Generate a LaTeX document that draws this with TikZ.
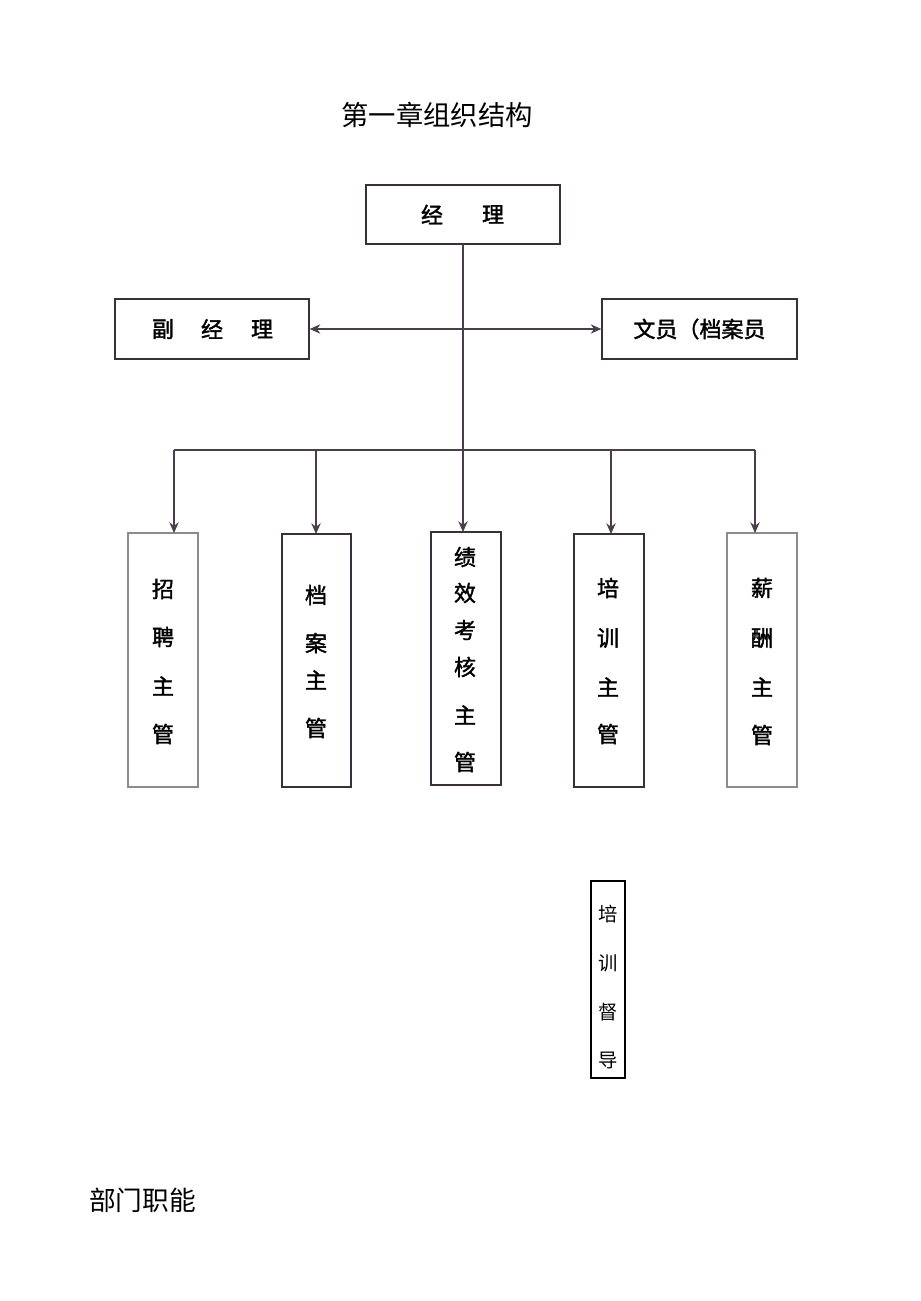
\documentclass[tikz,border=0pt]{standalone}
\usepackage{fontspec}
\newfontfamily\cjk{Noto Sans CJK SC}
\newfontfamily\cjkm{Noto Sans CJK SC}[FakeBold=1.6]
\usetikzlibrary{arrows.meta}
\definecolor{darkbox}{HTML}{3A303A}
\definecolor{graybox}{HTML}{8C8C8C}
\definecolor{hline}{HTML}{4A3E4A}
\begin{document}
\begin{tikzpicture}[x=0.75pt,y=-0.75pt,
  box/.style={draw=darkbox,line width=1pt,inner sep=0pt},
  gbox/.style={draw=graybox,line width=1pt,inner sep=0pt},
  lbl/.style={font=\cjkm\fontsize{16.5}{16.5}\selectfont,inner sep=0pt},
  thin/.style={font=\cjk\fontsize{14.5}{14.5}\selectfont,inner sep=0pt},
  conn/.style={line width=1pt,draw=hline},
  arr/.style={conn,-{Stealth[length=8pt,width=7pt]}},
]
\useasboundingbox[fill=white] (0,0) rectangle (920,1301);

% title
\node[font=\cjk\fontsize{20.5}{20.5}\selectfont,inner sep=0pt] (title) at (437,115) {第一章组织结构};

% top boxes
\node[box,minimum width=194*0.75pt,minimum height=59*0.75pt] (mgr) at (463,214.5) {};
\node[lbl] at (432,214.5) {经};
\node[lbl] at (493,214.5) {理};

\node[box,minimum width=194*0.75pt,minimum height=60*0.75pt] (vice) at (212,329) {};
\node[lbl] at (163,329) {副};
\node[lbl] at (212,329) {经};
\node[lbl] at (262,329) {理};

\node[box,minimum width=195*0.75pt,minimum height=60*0.75pt] (clerk) at (699.5,329) {};
\node[lbl] (clerkt) at (699.5,329) {文员（档案员};

% vertical boxes
\node[gbox,minimum width=70*0.75pt,minimum height=254*0.75pt] (b1) at (163,660) {};
\node[box,minimum width=69*0.75pt,minimum height=253*0.75pt] (b2) at (316.5,660.5) {};
\node[box,minimum width=70*0.75pt,minimum height=253*0.75pt] (b3) at (466,658.5) {};
\node[box,minimum width=70*0.75pt,minimum height=253*0.75pt] (b4) at (609,660.5) {};
\node[gbox,minimum width=70*0.75pt,minimum height=254*0.75pt] (b5) at (762,660) {};

\node[lbl] at (163,589) {招};
\node[lbl] at (163,637) {聘};
\node[lbl] at (163,686) {主};
\node[lbl] at (163,734) {管};

\node[lbl] at (316,595) {档};
\node[lbl] at (316,643) {案};
\node[lbl] at (316,680) {主};
\node[lbl] at (316,728) {管};

\node[lbl] at (465,557) {绩};
\node[lbl] at (465,593) {效};
\node[lbl] at (465,630) {考};
\node[lbl] at (465,667) {核};
\node[lbl] at (465,715) {主};
\node[lbl] at (465,762) {管};

\node[lbl] at (608,588) {培};
\node[lbl] at (608,638) {训};
\node[lbl] at (608,687) {主};
\node[lbl] at (608,734) {管};

\node[lbl] at (762,588) {薪};
\node[lbl] at (762,638) {酬};
\node[lbl] at (762,687) {主};
\node[lbl] at (762,735) {管};

% supervisor box
\node[draw=black,line width=0.8pt,minimum width=34*0.75pt,minimum height=197*0.75pt,inner sep=0pt] (sup) at (608,979.5) {};
\node[thin] at (608,914) {培};
\node[thin] at (608,963) {训};
\node[thin] at (608,1012) {督};
\node[thin] at (608,1060) {导};

% bottom heading
\node[font=\cjk\fontsize{20}{20}\selectfont,inner sep=0pt] (dept) at (142.5,1200) {部门职能};

% connectors
\coordinate (top) at (463,244);
\draw[conn] (top) -- (463,450);
\draw[{Stealth[length=8pt,width=7pt]}-{Stealth[length=8pt,width=7pt]},conn] (vice.east) -- (clerk.west);
\coordinate (hl) at (174,450);
\coordinate (hr) at (755,450);
\draw[conn] (hl) -- (hr);
\draw[arr] (hl) -- (174,533);
\draw[arr] (316,450) -- (316,534);
\draw[arr] (463,450) -- (463,532);
\draw[arr] (611,450) -- (611,534);
\draw[arr] (hr) -- (755,533);
\end{tikzpicture}
\end{document}
